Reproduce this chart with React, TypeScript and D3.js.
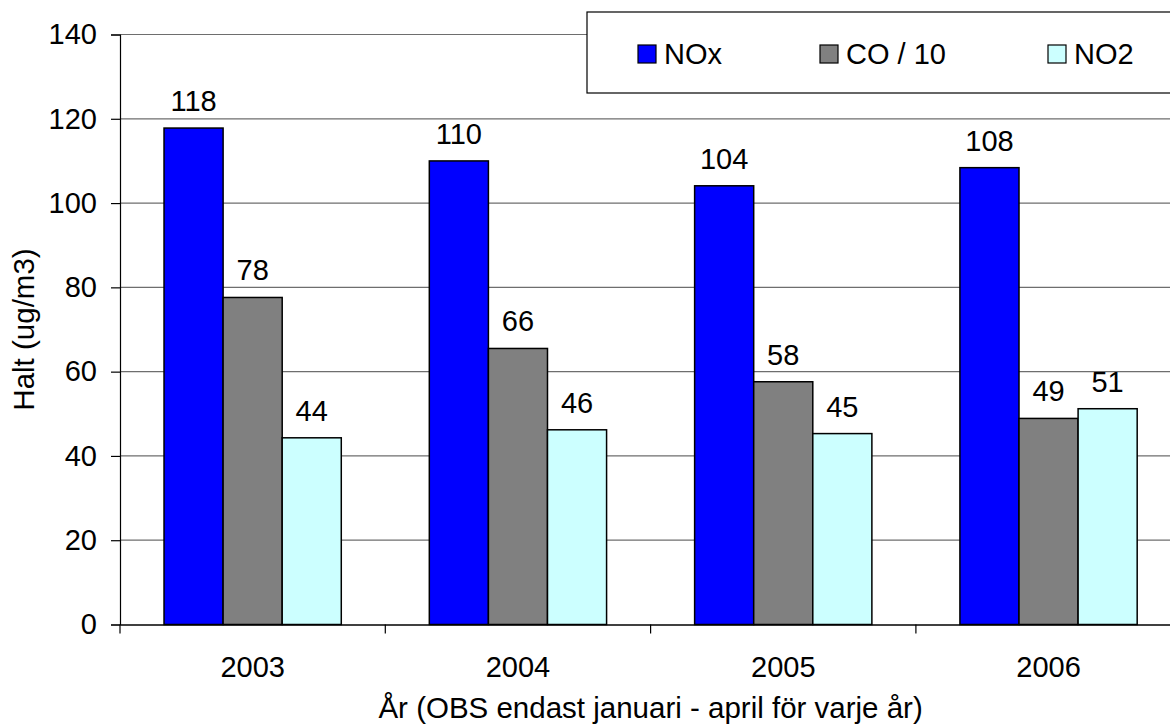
import { useEffect, useRef } from 'react'
import * as d3 from 'd3'

const years = ['2003', '2004', '2005', '2006']
const seriesNames = ['NOx', 'CO / 10', 'NO2']
const noxValues = [117.8, 110.0, 104.1, 108.4]
const coValues = [77.6, 65.5, 57.6, 48.9]
const no2Values = [44.3, 46.2, 45.3, 51.2]
const yTicks = [0, 20, 40, 60, 80, 100, 120, 140]
const seriesColors = ['#0000ff', '#808080', '#ccffff']

const W = 1170
const H = 726
const FONT = '"Liberation Sans", Arial, Helvetica, sans-serif'

export default function App() {
  const svgRef = useRef<SVGSVGElement | null>(null)

  useEffect(() => {
    if (!svgRef.current) return
    const svg = d3.select(svgRef.current)
    svg.selectAll('*').remove()

    const left = 120
    const top = 34.5
    const bottom = 624.5
    const right = left + 4 * 265.3

    const series = [noxValues, coValues, no2Values]
    const rows = years.map((yr, i) => ({
      year: yr,
      values: seriesNames.map((name, s) => ({ name, s, value: series[s][i] })),
    }))

    const x = d3.scaleBand().domain(years).range([left, right]).padding(0)
    const xs = d3.scaleBand().domain(seriesNames).range([0, x.bandwidth()])
      .paddingInner(0).paddingOuter(0.745)
    const y = d3.scaleLinear().domain([0, 140]).range([bottom, top])

    svg.append('rect').attr('width', W).attr('height', H).attr('fill', '#fff')

    // Grid
    svg.append('g')
      .selectAll('line')
      .data(yTicks.filter(t => t > 0))
      .join('line')
      .attr('x1', left).attr('x2', W + 20)
      .attr('y1', d => y(d)).attr('y2', d => y(d))
      .attr('stroke', '#6e6e6e').attr('stroke-width', 1.2)

    // Bars
    const groups = svg.append('g')
      .selectAll('g')
      .data(rows)
      .join('g')
      .attr('transform', d => `translate(${x(d.year)},0)`)

    groups.selectAll('rect')
      .data(d => d.values)
      .join('rect')
      .attr('x', d => xs(d.name)!)
      .attr('y', d => y(d.value))
      .attr('width', xs.bandwidth())
      .attr('height', d => y(0) - y(d.value))
      .attr('fill', d => seriesColors[d.s])
      .attr('stroke', '#000')
      .attr('stroke-width', 1.5)

    groups.selectAll('text')
      .data(d => d.values)
      .join('text')
      .attr('x', d => xs(d.name)! + xs.bandwidth() / 2)
      .attr('y', d => y(d.value) - 17)
      .attr('text-anchor', 'middle')
      .attr('font-family', FONT)
      .attr('font-size', 29)
      .attr('fill', '#000')
      .text(d => Math.round(d.value))

    // Y axis
    const yAxis = svg.append('g')
      .attr('transform', `translate(${left},0)`)
      .call(d3.axisLeft(y).tickValues(yTicks).tickSize(9).tickPadding(14))
    yAxis.select('.domain').attr('stroke', '#000').attr('stroke-width', 1.2)
    yAxis.selectAll('.tick line').attr('stroke', '#000').attr('stroke-width', 1.2)
    yAxis.selectAll('.tick text')
      .attr('font-family', FONT).attr('font-size', 29).attr('fill', '#000')

    // X axis
    const xAxis = svg.append('g')
      .attr('transform', `translate(0,${bottom})`)
      .call(d3.axisBottom(x).tickSize(0).tickPadding(32))
    xAxis.select('.domain').attr('stroke', '#000').attr('stroke-width', 1.5)
    xAxis.selectAll('.tick text')
      .attr('font-family', FONT).attr('font-size', 29).attr('fill', '#000')
    xAxis.selectAll('.sep')
      .data(years.map(yr => x(yr)!).concat([right]))
      .join('line')
      .attr('class', 'sep')
      .attr('x1', d => d).attr('x2', d => d)
      .attr('y1', 0).attr('y2', 9)
      .attr('stroke', '#000').attr('stroke-width', 1.2)

    // Axis titles
    svg.append('text')
      .attr('x', (left + right) / 2)
      .attr('y', 718)
      .attr('text-anchor', 'middle')
      .attr('font-family', FONT)
      .attr('font-size', 29.5)
      .text('År (OBS endast januari - april för varje år)')

    svg.append('text')
      .attr('transform', `translate(34,${(top + bottom) / 2}) rotate(-90)`)
      .attr('text-anchor', 'middle')
      .attr('font-family', FONT)
      .attr('font-size', 29.5)
      .text('Halt (ug/m3)')

    // Legend
    const legend = svg.append('g').attr('transform', 'translate(587,12)')
    legend.append('rect')
      .attr('width', 640).attr('height', 81)
      .attr('fill', '#fff').attr('stroke', '#000').attr('stroke-width', 1.2)
    const itemX = [51, 233, 461]
    const item = legend.selectAll('g.item')
      .data(seriesNames)
      .join('g')
      .attr('class', 'item')
      .attr('transform', (_d, i) => `translate(${itemX[i]},33)`)
    item.append('rect')
      .attr('width', 18).attr('height', 18)
      .attr('fill', (_d, i) => seriesColors[i])
      .attr('stroke', '#000').attr('stroke-width', 1.2)
    item.append('text')
      .attr('x', 26).attr('y', 19)
      .attr('font-family', FONT).attr('font-size', 29)
      .text(d => d)
  }, [])

  return (
    <div style={{ position: 'fixed', left: 0, top: 0 }}>
      <svg ref={svgRef} width={W} height={H} style={{ display: 'block' }} />
    </div>
  )
}
